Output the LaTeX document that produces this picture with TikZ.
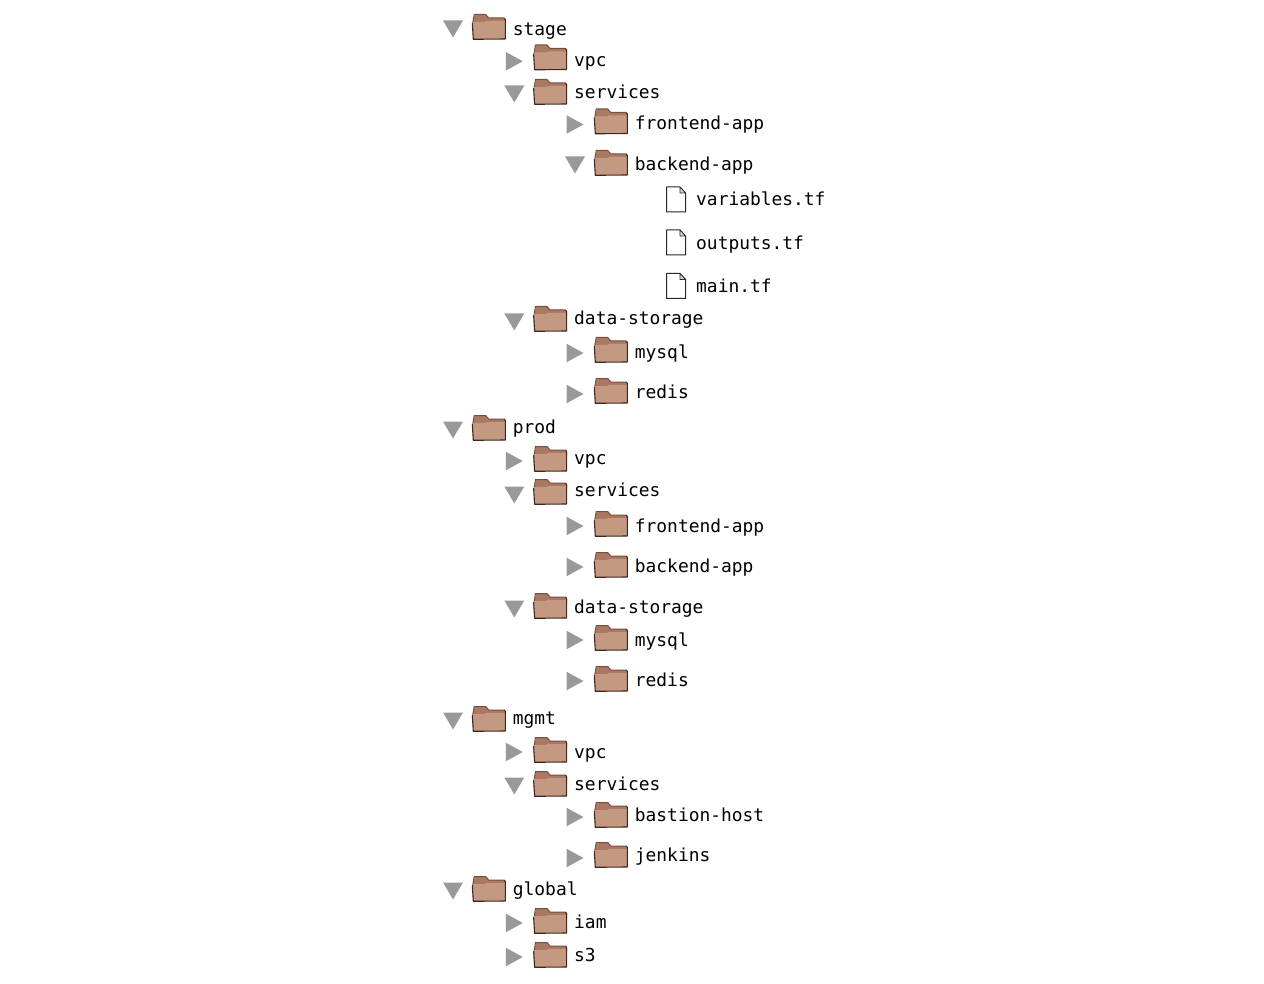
\documentclass[tikz,border=0pt]{standalone}
\usepackage{fontspec}
\setmonofont{DejaVu Sans Mono}
\usepackage{tikz}
\definecolor{foldertan}{rgb}{0.77,0.60,0.51}
\definecolor{folderband}{rgb}{0.67,0.47,0.38}
\definecolor{folderedge}{rgb}{0.25,0.15,0.12}
\definecolor{arrowgray}{rgb}{0.6,0.6,0.6}

\begin{document}
\begin{tikzpicture}[x=1pt, y=-1pt,
	entry/.style = {anchor=base west, inner sep=0pt, font=\ttfamily\fontsize{17.9}{20}\selectfont, text=black},
	folder/.pic = {
		\fill[folderband] (-15.5,-6) -- (-14,-12.5) -- (-3,-12.5) -- (0,-9) -- (15.5,-9) -- (17,-7) -- (17,-3) -- (-16,-3) -- cycle;
		\fill[foldertan] (-16.5,-5) -- (-4,-5) -- (-2,-6) -- (16.5,-6) -- (16.5,12) -- (-15.5,12) -- cycle;
		\draw[folderband!50!folderedge, line width=1pt, line join=round] (-15.8,-5) -- (-14.5,-12.5) -- (-3,-12.5) -- (0,-9) -- (15.5,-9);
		\draw[folderedge, line width=1.1pt, line join=round] (15.5,-9) -- (16.6,-7.5) -- (16.6,12) -- (-15.4,12.3) -- (-16.4,-4);
	},
	page/.pic = {
		\draw[black!85, fill=white, line width=1pt, line join=round] (-9.5,-12.5) -- (4,-12.5) -- (9.5,-6.5) -- (9.5,12.5) -- (-9.5,12.5) -- cycle;
		\filldraw[black!85, fill=black!15, line width=0.7pt, line join=round] (4,-12.5) -- (4,-6.5) -- (9.5,-6.5) -- cycle;
	},
	opened/.pic = { \fill[arrowgray] (-10,-8.5) -- (10,-8.5) -- (0,8.5) -- cycle; },
	closed/.pic = { \fill[arrowgray] (-8.5,-9.3) -- (8.5,0) -- (-8.5,9.3) -- cycle; }]
	% name / column / arrow / arrow y / folder y / baseline / text
	\foreach \name/\col/\arrow/\ya/\yf/\yt/\label in {
		stage/453/opened/29/27/36/stage,
		stagevpc/514.3/closed/61.3/57.5/67/vpc,
		stageservices/514.3/opened/94/92/99/services,
		stagefrontend/575/closed/124.5/121.5/130/frontend-app,
		stagebackend/575/opened/165/163/170.5/backend-app,
		stagedata/514.3/opened/322/319/325/data-storage,
		stagemysql/575/closed/353/350/358.3/mysql,
		stageredis/575/closed/394/391/399/redis,
		prod/453/opened/430/428/433.3/prod,
		prodvpc/514.3/closed/461/459/464/vpc,
		prodservices/514.3/opened/495/492/496/services,
		prodfrontend/575/closed/526/524/532.7/frontend-app,
		prodbackend/575/closed/567/565/572.7/backend-app,
		proddata/514.3/opened/609/606/613.3/data-storage,
		prodmysql/575/closed/640/638/646.7/mysql,
		prodredis/575/closed/681/679/686.7/redis,
		mgmt/453/opened/721/719/724.3/mgmt,
		mgmtvpc/514.3/closed/752/750/758.3/vpc,
		mgmtservices/514.3/opened/786/784/790.7/services,
		mgmtbastion/575/closed/817/815/821/bastion-host,
		mgmtjenkins/575/closed/858/855/861.3/jenkins,
		global/453/opened/891/889/895/global,
		globaliam/514.3/closed/923/921/928.7/iam,
		globals/514.3/closed/957/955/961.5/s3}
	{
		\pic at (\col,\ya) {\arrow};
		\pic at (\col+35.7,\yf) {folder};
		\node[entry] (\name) at (\col+59.7,\yt) {\label};
	}
	\foreach \name/\yf/\yt/\label in {variables/199.5/205.3/variables.tf, outputs/242.5/249.5/outputs.tf, main/286/292.3/main.tf}
	{
		\pic at (676,\yf) {page};
		\node[entry] (\name) at (696,\yt) {\label};
	}
	\useasboundingbox (0,0) rectangle (1264,984);
\end{tikzpicture}
\end{document}
